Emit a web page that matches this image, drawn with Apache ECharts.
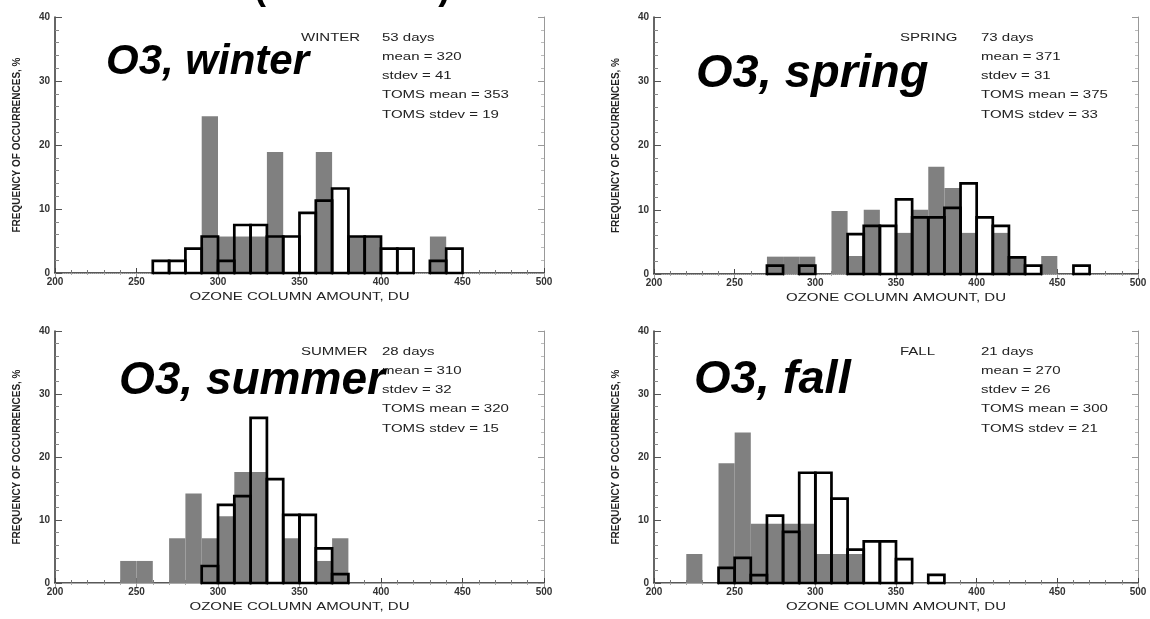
<!DOCTYPE html>
<html>
<head>
<meta charset="utf-8">
<script src="https://cdn.jsdelivr.net/npm/echarts@6/dist/echarts.min.js"></script>
<style>
  html, body { margin: 0; padding: 0; background: #fff; }
  #chart { width: 1150px; height: 619px; }
</style>
</head>
<body>
<div id="chart"></div>
<script>
// bin start values, DU (each bin is 10 DU wide)
const bins = [220, 230, 240, 250, 260, 270, 280, 290, 300, 310, 320, 330, 340,
  350, 360, 370, 380, 390, 400, 410, 420, 430, 440, 450, 460, 470];
const binWidth = 10;

// gray bars (sonde) and outlined bars (TOMS), frequency in %
const winterSonde = [0, 0, 0, 0, 0, 0, 0, 24.5, 5.7, 5.7, 5.7, 18.9, 0, 0, 18.9, 0, 5.7, 5.7, 0, 0, 0, 5.7, 0, 0, 0, 0];
const winterToms = [0, 0, 0, 0, 1.9, 1.9, 3.8, 5.7, 1.9, 7.5, 7.5, 5.7, 5.7, 9.4, 11.3, 13.2, 5.7, 5.7, 3.8, 3.8, 0, 1.9, 3.8, 0, 0, 0];
const springSonde = [0, 0, 0, 0, 0, 2.7, 2.7, 2.7, 0, 9.8, 2.8, 10, 0, 6.4, 10, 16.7, 13.4, 6.4, 0, 6.4, 2.6, 0, 2.8, 0, 0, 0];
const springToms = [0, 0, 0, 0, 0, 1.3, 0, 1.3, 0, 0, 6.2, 7.5, 7.5, 11.6, 8.8, 8.8, 10.3, 14.1, 8.8, 7.5, 2.6, 1.3, 0, 0, 1.3, 0];
const summerSonde = [0, 0, 3.5, 3.5, 0, 7.1, 14.2, 7.1, 10.6, 17.6, 17.6, 0, 7.1, 0, 3.5, 7.1, 0, 0, 0, 0, 0, 0, 0, 0, 0, 0];
const summerToms = [0, 0, 0, 0, 0, 0, 0, 2.7, 12.4, 13.8, 26.2, 16.5, 10.8, 10.8, 5.5, 1.4, 0, 0, 0, 0, 0, 0, 0, 0, 0, 0];
const fallSonde = [4.6, 0, 19, 23.9, 9.4, 9.4, 9.4, 9.4, 4.6, 4.6, 4.6, 0, 0, 0, 0, 0, 0, 0, 0, 0, 0, 0, 0, 0, 0, 0];
const fallToms = [0, 0, 2.4, 4, 1.25, 10.7, 8.1, 17.5, 17.5, 13.4, 5.3, 6.6, 6.6, 3.8, 0, 1.3, 0, 0, 0, 0, 0, 0, 0, 0, 0, 0];

// axis ticks
const xTicks = [200, 250, 300, 350, 400, 450, 500];
const yTicks = [0, 10, 20, 30, 40];

// panel labels and stats text
const panelTitles = ["O3, winter", "O3, spring", "O3, summer", "O3, fall"];
const seasonNames = ["WINTER", "SPRING", "SUMMER", "FALL"];
const seasonDays = ["53 days", "73 days", "28 days", "21 days"];
const statLines = [
  ["mean = 320", "stdev = 41", "TOMS mean = 353", "TOMS stdev = 19"],
  ["mean = 371", "stdev = 31", "TOMS mean = 375", "TOMS stdev = 33"],
  ["mean = 310", "stdev = 32", "TOMS mean = 320", "TOMS stdev = 15"],
  ["mean = 270", "stdev = 26", "TOMS mean = 300", "TOMS stdev = 21"],
];

const sondeData = [winterSonde, springSonde, summerSonde, fallSonde];
const tomsData = [winterToms, springToms, summerToms, fallToms];

const grids = [
  { left: 55, top: 17, width: 489, height: 256 },
  { left: 654, top: 17, width: 484, height: 257 },
  { left: 55, top: 331, width: 489, height: 252 },
  { left: 654, top: 331, width: 484, height: 252 },
];

const gray = "#808080";
const font = "Liberation Sans, Arial";
const labelFont = { fontSize: 10, fontWeight: "bold", color: "#333", fontFamily: font };

function pairs(values) {
  let out = [];
  values.forEach((v, i) => {
    if (v > 0) out.push([bins[i], v]);
  });
  return out;
}

function makeRender(filled) {
  return function (params, api) {
    let x0 = api.value(0);
    let v = api.value(1);
    let p0 = api.coord([x0, v]);
    let p1 = api.coord([x0 + binWidth, 0]);
    return {
      type: "rect",
      shape: { x: p0[0], y: p0[1], width: p1[0] - p0[0], height: p1[1] - p0[1] },
      style: filled
        ? { fill: gray }
        : { fill: "none", stroke: "#000", lineWidth: 2.7 },
    };
  };
}

// small stretched text (the source figure was widened)
function smallText(t, x, y) {
  return {
    type: "text", x: x, y: y, scaleX: 1.5, z: 10,
    style: { text: t, fontSize: 10, fill: "#222", fontFamily: font, verticalAlign: "middle" },
  };
}

let xAxes = [];
let yAxes = [];
let series = [];
let graphics = [];

grids.forEach((g, i) => {
  // bottom axis
  xAxes.push({
    gridIndex: i, type: "value", min: xTicks[0], max: xTicks[xTicks.length - 1], interval: 50,
    position: "bottom",
    axisLine: { lineStyle: { color: "#222", width: 1.5 } },
    axisTick: { inside: true, length: 5, lineStyle: { color: "#444" } },
    minorTick: { show: true, splitNumber: 5, length: 3, lineStyle: { color: "#777" } },
    axisLabel: Object.assign({ margin: 4 }, labelFont),
    splitLine: { show: false },
  });
  // top axis (frame)
  xAxes.push({
    gridIndex: i, type: "value", min: xTicks[0], max: xTicks[xTicks.length - 1], interval: 50,
    position: "top",
    axisLine: { lineStyle: { color: "#aaa", width: 1, type: i < 2 ? "dotted" : "solid" } },
    axisTick: { inside: true, length: 4, lineStyle: { color: "#999" } },
    minorTick: { show: true, splitNumber: 5, length: 2, lineStyle: { color: "#aaa" } },
    axisLabel: { show: false },
    splitLine: { show: false },
  });
  // left axis
  yAxes.push({
    gridIndex: i, type: "value", min: yTicks[0], max: yTicks[yTicks.length - 1], interval: 10,
    position: "left",
    name: "FREQUENCY OF OCCURRENCES, %", nameLocation: "middle", nameGap: 33,
    nameTextStyle: { fontSize: 10, fontWeight: "bold", color: "#222", fontFamily: font },
    axisLine: { lineStyle: { color: "#333", width: 1.5 } },
    axisTick: { inside: true, length: 7, lineStyle: { color: "#555" } },
    minorTick: { show: true, splitNumber: 5, length: 4, lineStyle: { color: "#888" } },
    axisLabel: Object.assign({ margin: 5 }, labelFont),
    splitLine: { show: false },
  });
  // right axis (frame)
  yAxes.push({
    gridIndex: i, type: "value", min: yTicks[0], max: yTicks[yTicks.length - 1], interval: 10,
    position: "right",
    axisLine: { lineStyle: { color: "#999", width: 1 } },
    axisTick: { inside: true, length: 6, lineStyle: { color: "#999" } },
    minorTick: { show: true, splitNumber: 5, length: 3, lineStyle: { color: "#bbb" } },
    axisLabel: { show: false },
    splitLine: { show: false },
  });

  series.push({
    type: "custom", xAxisIndex: i * 2, yAxisIndex: i * 2,
    renderItem: makeRender(true), data: pairs(sondeData[i]), z: 2,
  });
  series.push({
    type: "custom", xAxisIndex: i * 2, yAxisIndex: i * 2,
    renderItem: makeRender(false), data: pairs(tomsData[i]), z: 3,
  });

  // x axis title
  graphics.push({
    type: "text", x: g.left + g.width / 2, y: g.top + g.height + 24, scaleX: 1.5, z: 10,
    style: {
      text: "OZONE COLUMN AMOUNT, DU", fontSize: 10, fill: "#222", fontFamily: font,
      align: "center", verticalAlign: "middle",
    },
  });

  // stats block
  let sx = g.left + 327;
  let sy = g.top + 21;
  graphics.push(smallText(seasonNames[i], g.left + 246, sy));
  graphics.push(smallText(seasonDays[i], sx, sy));
  statLines[i].forEach((t, k) => {
    graphics.push(smallText(t, sx, sy + 19.2 * (k + 1)));
  });
});

// big panel labels
const titlePos = [[106, 41], [696, 51], [119, 358], [694, 357]];
const titleSize = [42, 47, 46, 47];
panelTitles.forEach((t, i) => {
  graphics.push({
    type: "text", left: titlePos[i][0], top: titlePos[i][1], z: 20,
    style: {
      text: t, fontSize: titleSize[i], fontWeight: "bold", fontStyle: "italic",
      fill: "#000", fontFamily: font,
    },
  });
});
// heading cut off by the top edge
graphics.push({
  type: "text", left: 254, top: -29, z: 20,
  style: { text: "(1997-2000)", fontSize: 36, fontWeight: "bold", fill: "#000", fontFamily: font },
});

let myChart = echarts.init(document.getElementById("chart"));
myChart.setOption({
  animation: false,
  backgroundColor: "#fff",
  grid: grids,
  xAxis: xAxes,
  yAxis: yAxes,
  series: series,
  graphic: graphics,
});
</script>
</body>
</html>
